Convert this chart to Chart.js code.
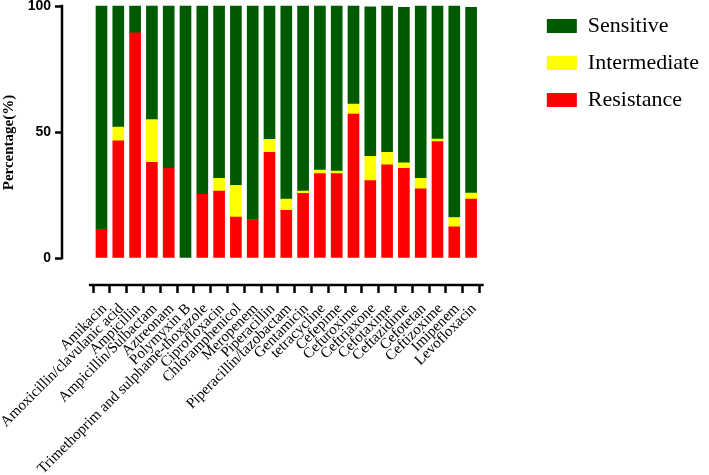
<!DOCTYPE html>
<html>
<head>
<meta charset="utf-8">
<script src="https://cdn.jsdelivr.net/npm/chart.js@4/dist/chart.umd.min.js"></script>
<style>
  html, body { margin: 0; padding: 0; background: #ffffff; }
  canvas { display: block; }
</style>
</head>
<body>
<canvas id="c" width="709" height="475"></canvas>
<script>
// ---- data ----
const categories = [
  "Amikacin", "Amoxicillin/clavulanic acid", "Ampicillin", "Ampicillin/Sulbactam",
  "Aztreonam", "Polymyxin B", "Trimethoprim and sulphame-thoxazole", "Ciprofloxacin",
  "Chloramphenicol", "Meropenem", "Piperacillin", "Piperacillin/tazobactam",
  "Gentamicin", "tetracycline", "Cefepime", "Cefuroxime", "Ceftriaxone",
  "Cefotaxime", "Ceftazidime", "Cefotetan", "Ceftizoxime", "Imipenem", "Levofloxacin"
];
const resistance   = [11.4, 46.5, 89.4, 38.0, 35.7, 0, 25.3, 26.6, 16.2, 15.3, 41.9, 18.9, 25.7, 33.5, 33.5, 57.1, 30.7, 37.0, 35.6, 27.5, 46.2, 12.4, 23.4];
const intermediate = [0, 5.5, 0, 16.9, 0, 0, 0, 5.0, 12.6, 0, 5.2, 4.5, 0.9, 1.4, 1.0, 4.0, 9.7, 4.9, 2.2, 4.1, 1.0, 3.7, 2.4];
const sensitive    = [88.6, 48.0, 10.6, 45.1, 64.3, 100, 74.7, 68.4, 71.2, 84.7, 52.9, 76.6, 73.4, 65.1, 65.5, 38.9, 59.3, 58.1, 61.7, 68.4, 52.8, 83.9, 73.7];
const yTicks = [0, 50, 100];

const toPts = arr => arr.map((v, i) => ({ x: i, y: v === 0 ? null : v }));

const axisLines = {
  id: 'axisLines',
  afterDraw(chart) {
    const ctx = chart.ctx, xs = chart.scales.x, ys = chart.scales.y, ca = chart.chartArea;
    ctx.save();
    ctx.strokeStyle = '#000';
    ctx.lineWidth = 2.5;
    ctx.beginPath();
    ctx.moveTo(ca.left, ys.getPixelForValue(100) - 1.25);
    ctx.lineTo(ca.left, ys.getPixelForValue(0) + 1.25);
    ctx.moveTo(xs.getPixelForValue(-0.75), ca.bottom);
    ctx.lineTo(xs.getPixelForValue(categories.length - 0.25), ca.bottom);
    ctx.stroke();
    ctx.restore();
  }
};

new Chart(document.getElementById('c'), {
  type: 'bar',
  data: {
    datasets: [
      { label: 'Resistance', data: toPts(resistance), backgroundColor: '#FF0000' },
      { label: 'Intermediate', data: toPts(intermediate), backgroundColor: '#FFFF00' },
      { label: 'Sensitive', data: toPts(sensitive), backgroundColor: '#005A00' }
    ]
  },
  options: {
    responsive: false,
    animation: false,
    layout: { padding: { top: 0, left: 0, right: 0, bottom: 0 } },
    datasets: { bar: { barThickness: 11 } },
    plugins: {
      tooltip: { enabled: false },
      legend: {
        position: 'right',
        align: 'start',
        reverse: true,
        labels: {
          boxWidth: 30,
          boxHeight: 14,
          padding: 15,
          color: '#000',
          font: { family: 'Liberation Serif', size: 22 }
        }
      }
    },
    scales: {
      x: {
        type: 'linear',
        stacked: true,
        offset: false,
        bounds: 'data',
        afterDataLimits(s) {
          s.min = (62 - 101.5) / 16.8;
          s.max = s.min + s.width / 16.8;
        },
        afterBuildTicks(s) { s.ticks = categories.map((_, i) => ({ value: i })); },
        afterFit(s) { s.height = 190; s.paddingLeft = 0; s.paddingRight = 0; },
        border: { display: false },
        grid: { display: true, drawOnChartArea: false, drawTicks: true, tickLength: 8, tickWidth: 2.5, tickColor: '#000' },
        ticks: {
          autoSkip: false,
          minRotation: 45,
          maxRotation: 45,
          padding: 7,
          labelOffset: 3,
          color: '#000',
          font: { family: 'Liberation Serif', size: 15 },
          callback: v => categories[v]
        }
      },
      y: {
        stacked: true,
        bounds: 'data',
        min: -10.7,
        max: 100 + 6 / 2.52,
        afterBuildTicks(s) { s.ticks = yTicks.map(v => ({ value: v })); },
        afterFit(s) { s.width = 62; s.paddingTop = 0; s.paddingBottom = 0; },
        border: { display: false },
        grid: { display: true, drawOnChartArea: false, drawTicks: true, tickLength: 7, tickWidth: 2.5, tickColor: '#000' },
        ticks: {
          padding: 4,
          color: '#000',
          font: { family: 'Liberation Sans', size: 14, weight: 'bold' }
        },
        title: {
          display: true,
          text: 'Percentage(%)',
          color: '#000',
          padding: { top: 0, bottom: 0 },
          font: { family: 'Liberation Serif', size: 15, weight: 'bold' }
        }
      }
    }
  },
  plugins: [axisLines]
});
</script>
</body>
</html>
